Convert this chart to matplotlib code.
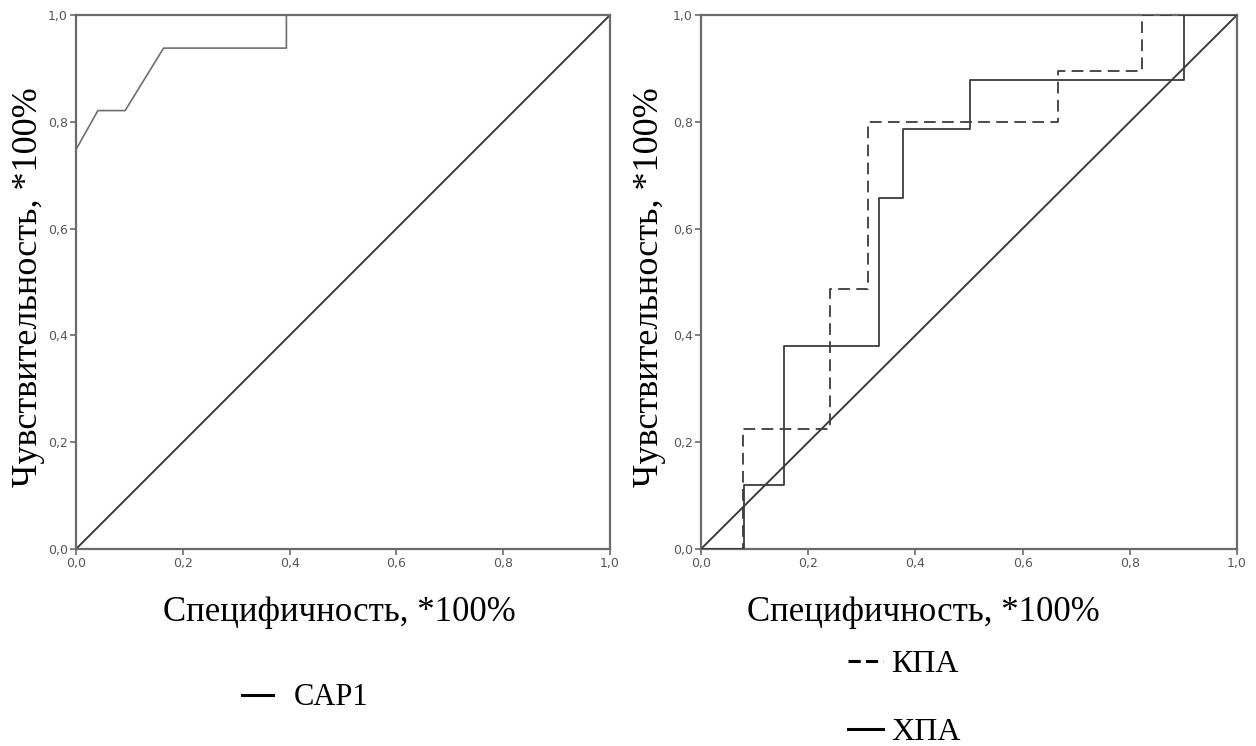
import matplotlib.pyplot as plt
from matplotlib.lines import Line2D

# ROC points (1 - specificity, sensitivity)
cap1_x = [0.0, 0.0, 0.041, 0.092, 0.164, 0.394, 0.394, 1.0]
cap1_y = [0.0, 0.748, 0.821, 0.821, 0.938, 0.938, 1.0, 1.0]

kpa_x = [0.0, 0.078, 0.078, 0.241, 0.241, 0.311, 0.311, 0.666, 0.666, 0.823, 0.823, 1.0]
kpa_y = [0.0, 0.0, 0.224, 0.224, 0.487, 0.487, 0.80, 0.80, 0.896, 0.896, 1.0, 1.0]

xpa_x = [0.0, 0.080, 0.080, 0.154, 0.154, 0.332, 0.332, 0.376, 0.376, 0.502, 0.502, 0.901, 0.901, 1.0]
xpa_y = [0.0, 0.0, 0.120, 0.120, 0.380, 0.380, 0.657, 0.657, 0.787, 0.787, 0.879, 0.879, 1.0, 1.0]

ticks = [0.0, 0.2, 0.4, 0.6, 0.8, 1.0]
tick_labels = ["0,0", "0,2", "0,4", "0,6", "0,8", "1,0"]

serif = "Liberation Serif"
spine_col = "#6b6b6b"
line_col = "#3c3c3c"

fig = plt.figure(figsize=(12.56, 7.46), dpi=100)
ax1 = fig.add_axes([76 / 1256, 197 / 746, 534 / 1256, 534 / 746])
ax2 = fig.add_axes([701 / 1256, 197 / 746, 536 / 1256, 534 / 746])


def style(ax):
    ax.set_xlim(0, 1)
    ax.set_ylim(0, 1)
    ax.set_xticks(ticks)
    ax.set_xticklabels(tick_labels)
    ax.set_yticks(ticks)
    ax.set_yticklabels(tick_labels)
    for s in ax.spines.values():
        s.set_color(spine_col)
        s.set_linewidth(1.6)
    ax.tick_params(direction="out", length=4, width=1.2, color=spine_col,
                   labelcolor="#555555", labelsize=9, pad=2,
                   labelfontfamily="Liberation Sans Narrow")
    ax.plot([0, 1], [0, 1], color=line_col, lw=1.4, zorder=2)
    ax.set_ylabel("Чувствительность, *100%", fontfamily=serif, fontsize=26)
    ax.set_xlabel("Специфичность, *100%", fontfamily=serif, fontsize=25)


style(ax1)
style(ax2)

ax1.plot(cap1_x, cap1_y, color="#6e6e6e", lw=1.2, zorder=3)
ax1.yaxis.set_label_coords(-0.058, 0.49)
ax1.xaxis.set_label_coords(0.494, -0.088)

ax2.plot(kpa_x, kpa_y, color=line_col, lw=1.3, ls=(0, (6.5, 3.5)), zorder=3)
ax2.plot(xpa_x, xpa_y, color=line_col, lw=1.3, zorder=3)
ax2.yaxis.set_label_coords(-0.066, 0.49)
ax2.xaxis.set_label_coords(0.414, -0.088)

# legends below the plots
leg1 = ax1.legend(
    [Line2D([], [], color="black", lw=2.2)], ["CAP1"],
    loc="center left", bbox_to_anchor=(0.311, -0.279), frameon=False,
    borderpad=0, borderaxespad=0, handlelength=1.0, handletextpad=0.7,
    prop={"family": serif, "size": 22},
)

leg2 = ax2.legend(
    [Line2D([], [], color="black", lw=2.2, ls=(0, (4, 1.7))),
     Line2D([], [], color="black", lw=2.2)],
    ["КПА", "ХПА"],
    loc="center left", bbox_to_anchor=(0.274, -0.280), frameon=False,
    borderpad=0, borderaxespad=0, handlelength=1.1, handletextpad=0.26,
    labelspacing=1.2, prop={"family": serif, "size": 23},
)

fig.savefig("out.png", dpi=100)
